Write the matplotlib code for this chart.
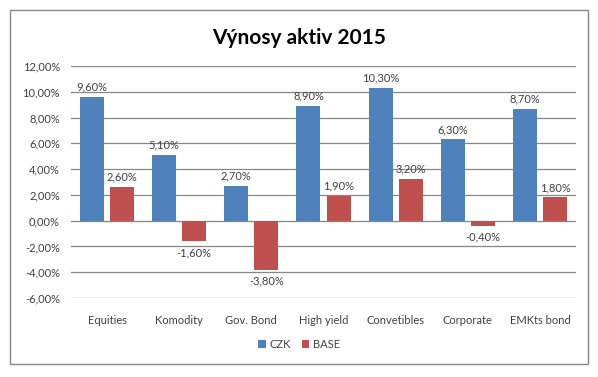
import numpy as np
import matplotlib.pyplot as plt
from matplotlib.patches import Rectangle

categories = ['Equities', 'Komodity', 'Gov. Bond', 'High yield', 'Convetibles', 'Corporate', 'EMKts bond']
czk = [9.6, 5.1, 2.7, 8.9, 10.3, 6.3, 8.7]
base = [2.6, -1.6, -3.8, 1.9, 3.2, -0.4, 1.8]
y_ticks = [-6, -4, -2, 0, 2, 4, 6, 8, 10, 12]

plt.rcParams['font.family'] = ['Lato', 'DejaVu Sans']


def pct(v):
    return ('%.2f%%' % v).replace('.', ',')


fig = plt.figure(figsize=(5.98, 3.77), dpi=100)
fig.patches.append(Rectangle((10 / 598, 1 - 364 / 377), 578 / 598, 354 / 377,
                             transform=fig.transFigure, fill=False,
                             edgecolor='#868686', linewidth=1))
ax = fig.add_axes([71 / 598, 1 - 298 / 377, 505 / 598, 232 / 377])

x = np.arange(len(categories))
w = 24 / 72
off = 15 / 72
b1 = ax.bar(x - off, czk, w, color='#4F81BD', label='CZK', zorder=3)
b2 = ax.bar(x + off, base, w, color='#C0504D', label='BASE', zorder=3)

for bars, vals in ((b1, czk), (b2, base)):
    for r, v in zip(bars, vals):
        cx = r.get_x() + r.get_width() / 2
        if v >= 0:
            ax.text(cx, v + 0.35, pct(v), ha='center', va='bottom', fontsize=8, color='#404040')
        else:
            ax.text(cx, v - 0.45, pct(v), ha='center', va='top', fontsize=8, color='#404040')

ax.set_xlim(-0.5, len(categories) - 0.5)
ax.set_ylim(-6, 12)
ax.set_yticks(y_ticks)
ax.set_yticklabels([pct(v) for v in y_ticks], fontsize=8, color='#404040')
ax.set_xticks(x)
ax.set_xticklabels(categories, fontsize=8, color='#404040')
ax.tick_params(axis='both', length=0)
ax.tick_params(axis='x', pad=12)
ax.tick_params(axis='y', pad=8)
ax.grid(axis='y', color='#868686', linewidth=0.9, zorder=0)
for s in ax.spines.values():
    s.set_visible(False)

fig.text(0.5, 1 - 38 / 377, 'Výnosy aktiv 2015', ha='center', va='center',
         fontsize=15, fontweight='bold', color='black')

fig.legend(loc='center', bbox_to_anchor=(0.5, 1 - 344 / 377), ncol=2, frameon=False,
           fontsize=8, handlelength=0.7, handleheight=0.7, handletextpad=0.3,
           columnspacing=1.0, labelcolor='#404040')

fig.savefig('out.png', dpi=100)
